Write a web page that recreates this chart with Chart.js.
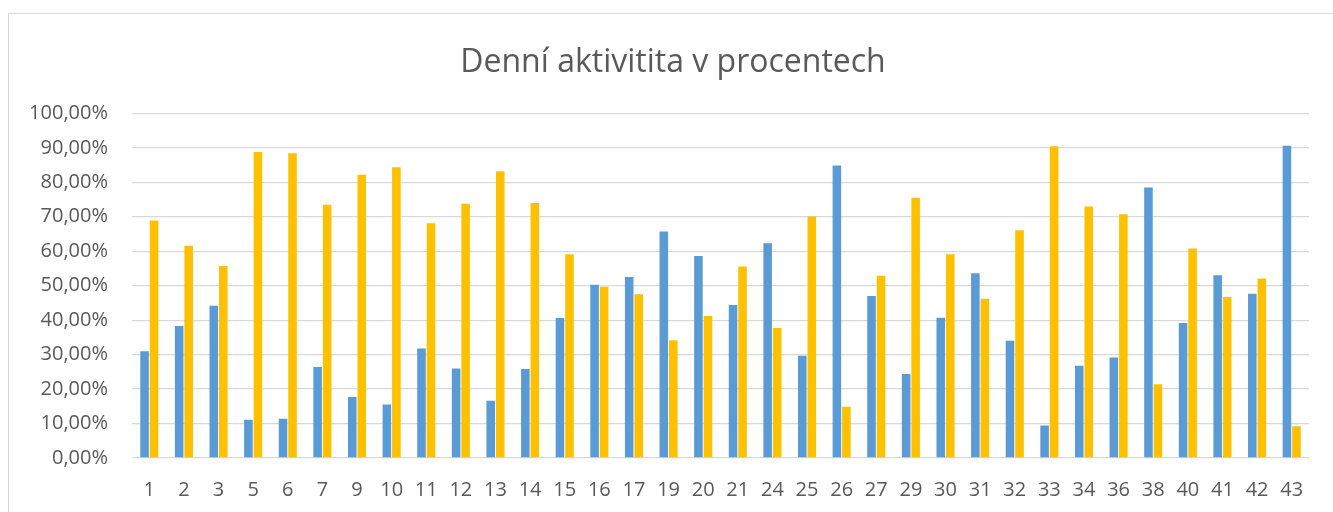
<!DOCTYPE html>
<html>
<head>
<meta charset="utf-8">
<script src="https://cdn.jsdelivr.net/npm/chart.js@4/dist/chart.umd.min.js"></script>
<style>
    body { margin: 0; background: #fff; overflow: hidden; }
    #frame {
        position: absolute; left: 8px; top: 13px; width: 1400px; height: 600px;
        border: 1px solid #d9d9d9; box-sizing: border-box;
    }
    #chart { position: absolute; left: 0; top: 0; }
</style>
</head>
<body>
<div id="frame"></div>
<canvas id="chart" width="1333" height="512"></canvas>
<script>
// Day numbers on the x axis
const days = ['1', '2', '3', '5', '6', '7', '9', '10', '11', '12', '13', '14', '15', '16', '17',
    '19', '20', '21', '24', '25', '26', '27', '29', '30', '31', '32', '33', '34', '36', '38',
    '40', '41', '42', '43'];

// Blue series (percent)
const blueValues = [31.0, 38.3, 44.2, 11.1, 11.4, 26.4, 17.7, 15.5, 31.8, 26.0, 16.6, 25.8, 40.6,
    50.3, 52.5, 65.7, 58.6, 44.4, 62.3, 29.7, 84.9, 47.0, 24.4, 40.7, 53.6, 34.0, 9.4, 26.8,
    29.2, 78.5, 39.2, 53.0, 47.7, 90.6];

// Yellow series (percent)
const yellowValues = [68.9, 61.6, 55.7, 88.8, 88.4, 73.5, 82.2, 84.4, 68.1, 73.8, 83.2, 74.0, 59.1,
    49.7, 47.5, 34.2, 41.2, 55.6, 37.7, 70.1, 14.9, 52.9, 75.5, 59.1, 46.2, 66.1, 90.5, 73.0,
    70.7, 21.4, 60.8, 46.7, 52.1, 9.2];

const titleText = 'Denní aktivitita v procentech';

document.addEventListener('DOMContentLoaded', function() {
    const ctx = document.getElementById('chart');
    const textColor = '#595959';

    new Chart(ctx, {
        type: 'bar',
        data: {
            labels: days,
            datasets: [{
                data: blueValues,
                backgroundColor: '#5b9bd5'
            }, {
                data: yellowValues,
                backgroundColor: '#ffc000'
            }]
        },
        options: {
            responsive: false,
            animation: false,
            layout: {
                // title centres between the paddings, like the original frame
                padding: { left: 13, right: 0, top: 44, bottom: 0 }
            },
            datasets: {
                bar: { barPercentage: 0.9, categoryPercentage: 0.55 }
            },
            plugins: {
                legend: { display: false },
                tooltip: { enabled: false },
                title: {
                    display: true,
                    text: titleText,
                    color: textColor,
                    font: { family: 'Open Sans', size: 32, weight: 'normal' },
                    padding: { top: 0, bottom: 31 }
                }
            },
            scales: {
                x: {
                    afterFit: function(scale) { scale.height = 54; },
                    grid: { display: false, drawTicks: false },
                    border: { display: false },
                    ticks: {
                        color: textColor,
                        font: { family: 'Open Sans', size: 20 },
                        padding: 20,
                        maxRotation: 0,
                        autoSkip: false
                    }
                },
                y: {
                    min: 0,
                    max: 100,
                    afterFit: function(scale) { scale.width = 119; },
                    grid: { color: '#d9d9d9', lineWidth: 1.3, drawTicks: false },
                    border: { display: false },
                    ticks: {
                        stepSize: 10,
                        color: textColor,
                        font: { family: 'Open Sans', size: 20 },
                        padding: 24,
                        callback: function(v) { return v.toFixed(2).replace('.', ',') + '%'; }
                    }
                },
                // empty spacer on the right so the plot ends where the original does
                yRight: {
                    position: 'right',
                    afterFit: function(scale) { scale.width = 24; },
                    grid: { display: false, drawTicks: false },
                    border: { display: false },
                    ticks: { display: false }
                }
            }
        }
    });
});
</script>
</body>
</html>
